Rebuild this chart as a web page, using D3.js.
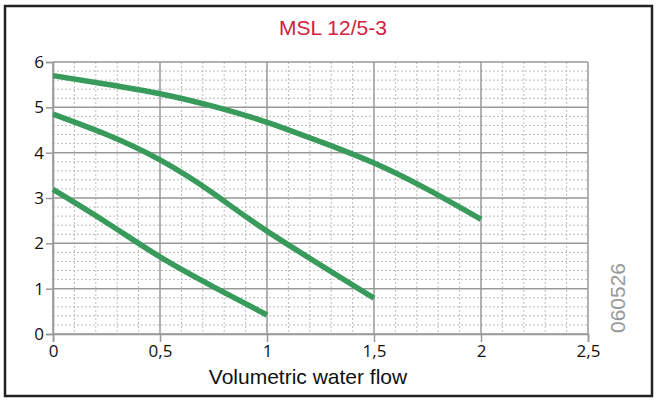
<!DOCTYPE html>
<html>
<head>
<meta charset="utf-8">
<script src="https://cdn.jsdelivr.net/npm/d3@7"></script>
<style>
  body { margin: 0; background: #fff; }
</style>
</head>
<body>
<div id="chart"></div>
<script>
// curve values (flow, head)
const curveHigh = [[0, 5.70], [0.25, 5.51], [0.5, 5.30], [0.75, 5.02], [1, 4.67], [1.25, 4.24], [1.5, 3.77], [1.75, 3.19], [2, 2.53]];
const curveMid = [[0, 4.85], [0.25, 4.40], [0.5, 3.84], [0.75, 3.10], [1, 2.27], [1.5, 0.79]];
const curveLow = [[0, 3.19], [0.25, 2.46], [0.5, 1.70], [0.75, 1.04], [1, 0.42]];
const xTicks = [0, 0.5, 1, 1.5, 2, 2.5];
const yTicks = [0, 1, 2, 3, 4, 5, 6];
const title = 'MSL 12/5-3';
const xLabel = 'Volumetric water flow';
const code = '060526';

const W = 657, H = 400;
const margin = { top: 62, right: 69, bottom: 66, left: 53 };
const width = W - margin.left - margin.right;
const height = H - margin.top - margin.bottom;

const svg = d3.select('#chart')
    .append('svg')
    .attr('width', W)
    .attr('height', H);

// outer frame
svg.append('rect')
    .attr('x', 5).attr('y', 6)
    .attr('width', W - 10).attr('height', H - 10)
    .attr('fill', 'none')
    .attr('stroke', '#222')
    .attr('stroke-width', 2.5);

svg.append('text')
    .attr('x', 333)
    .attr('y', 35)
    .attr('text-anchor', 'middle')
    .style('font-family', '"Liberation Sans", Arial, sans-serif')
    .style('font-size', '21px')
    .attr('fill', '#d2213a')
    .text(title);

const g = svg.append('g')
    .attr('transform', `translate(${margin.left}, ${margin.top})`);

const xScale = d3.scaleLinear().domain([0, 2.5]).range([0, width]);
const yScale = d3.scaleLinear().domain([0, 6]).range([height, 0]);

// minor grid
g.append('g')
    .selectAll('line')
    .data(d3.range(1, 25).filter(i => i % 5 !== 0).map(i => i / 10))
    .enter().append('line')
    .attr('x1', d => xScale(d)).attr('x2', d => xScale(d))
    .attr('y1', 0).attr('y2', height)
    .attr('stroke', '#bbb').attr('stroke-width', 1)
    .attr('stroke-dasharray', '2,2');

g.append('g')
    .selectAll('line')
    .data(d3.range(1, 30).filter(i => i % 5 !== 0).map(i => i / 5))
    .enter().append('line')
    .attr('x1', 0).attr('x2', width)
    .attr('y1', d => yScale(d)).attr('y2', d => yScale(d))
    .attr('stroke', '#bbb').attr('stroke-width', 1)
    .attr('stroke-dasharray', '2,2');

// major grid
g.append('g')
    .selectAll('line')
    .data(xTicks)
    .enter().append('line')
    .attr('x1', d => xScale(d)).attr('x2', d => xScale(d))
    .attr('y1', 0).attr('y2', height)
    .attr('stroke', '#999').attr('stroke-width', 1.5);

g.append('g')
    .selectAll('line')
    .data(yTicks)
    .enter().append('line')
    .attr('x1', 0).attr('x2', width)
    .attr('y1', d => yScale(d)).attr('y2', d => yScale(d))
    .attr('stroke', '#999').attr('stroke-width', 1.5);

const fmt = d => String(d).replace('.', ',');

const xAxis = g.append('g')
    .attr('transform', `translate(0, ${height})`)
    .call(d3.axisBottom(xScale).tickValues(xTicks).tickFormat(fmt).tickSize(8).tickPadding(3));

const yAxis = g.append('g')
    .call(d3.axisLeft(yScale).tickValues(yTicks).tickFormat(fmt).tickSize(7).tickPadding(2));

[xAxis, yAxis].forEach(a => {
    a.select('.domain').attr('stroke', '#999').attr('stroke-width', 1.5);
    a.selectAll('.tick line').attr('stroke', '#999').attr('stroke-width', 1.5);
    a.selectAll('text')
        .attr('fill', '#111')
        .style('font-family', '"Open Sans", "Noto Sans", sans-serif')
        .style('font-size', '17px');
});

svg.append('text')
    .attr('x', 308)
    .attr('y', 384)
    .attr('text-anchor', 'middle')
    .style('font-family', '"Liberation Sans", Arial, sans-serif')
    .style('font-size', '21px')
    .attr('fill', '#111')
    .text(xLabel);

svg.append('text')
    .attr('transform', 'translate(625, 298) rotate(-90)')
    .attr('text-anchor', 'middle')
    .style('font-family', '"Liberation Sans", Arial, sans-serif')
    .style('font-size', '21px')
    .attr('fill', '#999')
    .text(code);

const line = d3.line()
    .x(d => xScale(d[0]))
    .y(d => yScale(d[1]))
    .curve(d3.curveNatural);

g.selectAll('.pump')
    .data([curveHigh, curveMid, curveLow])
    .enter().append('path')
    .attr('class', 'pump')
    .attr('d', d => line(d))
    .attr('fill', 'none')
    .attr('stroke', '#389b5b')
    .attr('stroke-width', 5.5);
</script>
</body>
</html>
